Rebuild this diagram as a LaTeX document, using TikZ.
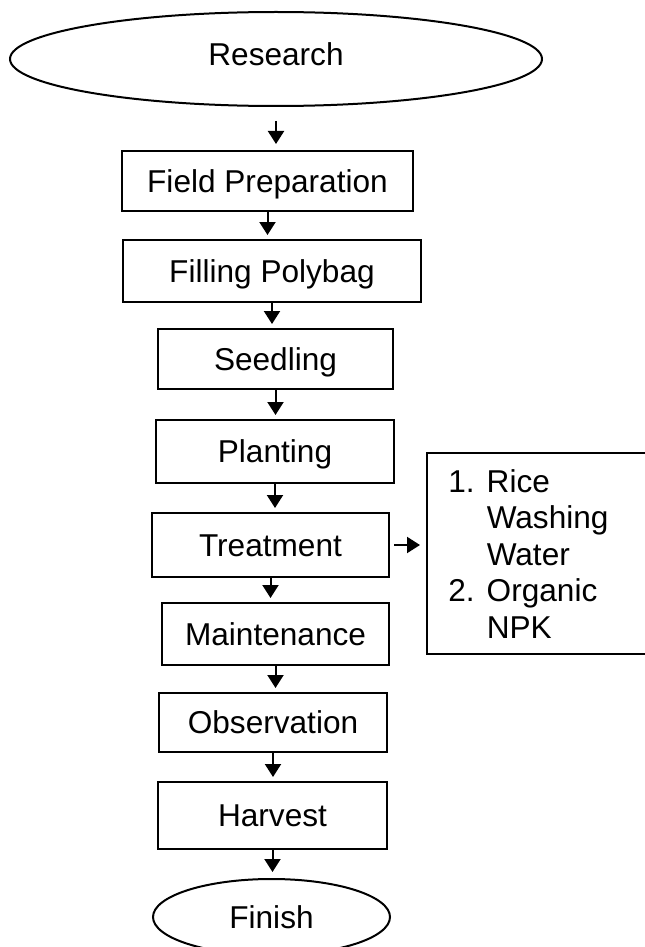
\documentclass[tikz,border=0pt]{standalone}
\usepackage{fontspec}
\setmainfont{Liberation Sans}
\usetikzlibrary{arrows.meta,positioning,calc,shapes.geometric}
\tikzset{
  >={Triangle[length=6.5pt,width=8pt]},
  stepbox/.style={draw,line width=1pt,fill=white,inner sep=0pt,text height=11.3pt,text depth=0pt},
  termnode/.style={stepbox,ellipse},
  listbox/.style={draw,line width=1pt,inner sep=0pt,anchor=north west},
  flow/.style={->,line width=1pt,shorten >=2pt},
}

\begin{document}
\begin{tikzpicture}[x=0.5pt,y=-0.5pt,font=\fontsize{15.8}{18.25}\selectfont]
  \useasboundingbox (0,0) rectangle (644,947);
  \node[termnode,minimum width=266pt,minimum height=47pt,text depth=4.5pt] (res) at (276,59) {Research};
  \foreach \n/\cx/\cy/\w/\h/\t in {fp/267.5/181/291/60/Field Preparation,
      pb/272/271/298/62/Filling Polybag, sd/275.5/359/235/60/Seedling,
      pl/275/451.5/238/63/Planting, tr/270.5/545/237/64/Treatment,
      mt/275.5/634/227/62/Maintenance, ob/273/722.5/228/59/Observation,
      hv/272.5/815.5/229/67/Harvest}
    \node[stepbox,minimum width=\w*0.5pt,minimum height=\h*0.5pt] (\n) at (\cx,\cy) {\t};
  \node[termnode,minimum width=118.5pt,minimum height=38pt] (fin) at (271.5,917) {Finish};
  % treatment options, cut by the right edge
  \node[listbox,minimum width=120pt,minimum height=100.5pt] (dose) at (426,452) {};
  \node[anchor=north west,inner sep=0pt] (doselist) at ($(dose.north west)+(22,14.4)$)
    {\begin{tabular}{@{}l@{\hspace{6pt}}l@{}}1.&Rice\\&Washing\\&Water\\2.&Organic\\&NPK\end{tabular}};
  \draw[flow,shorten <=7pt,shorten >=3pt] (res.south) -- (res.south |- fp.north);
  \foreach \a/\b in {fp/pb,pb/sd,sd/pl,pl/tr,tr/mt,mt/ob,ob/hv}
    \draw[flow] (\a.south) -- (\a.south |- \b.north);
  \draw[flow,shorten >=3pt] (hv.south) -- (hv.south |- fin.north);
  \draw[flow,shorten <=2pt,shorten >=3pt] (tr.east) -- (tr.east -| dose.west);
\end{tikzpicture}
\end{document}
